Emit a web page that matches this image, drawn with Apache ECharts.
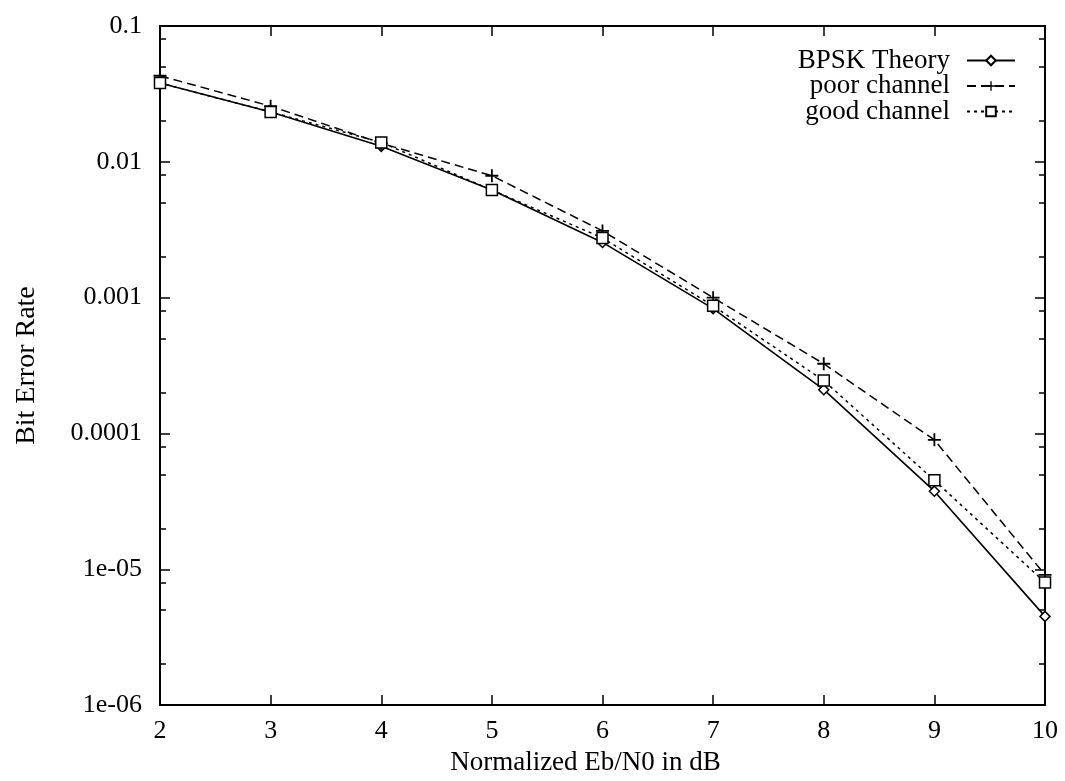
<!DOCTYPE html>
<html>
<head>
<meta charset="utf-8">
<script src="https://cdn.jsdelivr.net/npm/echarts@6/dist/echarts.min.js"></script>
<style>
html,body{margin:0;padding:0;background:#fff;}
#chart{width:1065px;height:781px;}
</style>
</head>
<body>
<div id="chart"></div>
<script>
// ---- data ----
var xValues = [2, 3, 4, 5, 6, 7, 8, 9, 10];
var bpskTheory = [0.038, 0.0233, 0.013, 0.0062, 0.00255, 0.00083, 0.00021, 0.0000376, 0.0000045];
var poorChannel = [0.043, 0.0257, 0.0137, 0.0079, 0.0031, 0.00100, 0.000326, 0.0000897, 0.0000091];
var goodChannel = [0.038, 0.0233, 0.0139, 0.0062, 0.00275, 0.00087, 0.000245, 0.0000452, 0.0000080];
var seriesNames = ['BPSK Theory', 'poor channel', 'good channel'];
var yMajorTicks = [1e-6, 1e-5, 1e-4, 1e-3, 1e-2, 1e-1];
var yTickLabels = ['1e-06', '1e-05', '0.0001', '0.001', '0.01', '0.1'];
var yMinorTicks = [2e-6, 5e-6, 8e-6, 2e-5, 5e-5, 8e-5, 2e-4, 5e-4, 8e-4, 2e-3, 5e-3, 8e-3, 2e-2, 5e-2, 8e-2];
var xTicks = [2, 3, 4, 5, 6, 7, 8, 9, 10];
var xLabel = 'Normalized Eb/N0 in dB';
var yLabel = 'Bit Error Rate';

function pairs(ys) { return xValues.map(function (x, i) { return [x, ys[i]]; }); }

var FONT = 'Liberation Serif';
var lineAx = { show: true, onZero: false, lineStyle: { color: '#000', width: 2 } };

function yAxisDef(pos, ticks, len, withLabel) {
  return {
    type: 'log', logBase: 10, min: 1e-6, max: 0.1, position: pos,
    axisLine: lineAx,
    axisTick: { show: true, inside: true, length: len, customValues: ticks, lineStyle: { color: '#000', width: 1.5 } },
    axisLabel: withLabel ? {
      show: true, customValues: yMajorTicks, color: '#000', fontFamily: FONT, fontSize: 26, margin: 18,
      formatter: function (v) { return yTickLabels[Math.round(Math.log10(v)) + 6]; }
    } : { show: false },
    splitLine: { show: false }, minorTick: { show: false }
  };
}

var chart = echarts.init(document.getElementById('chart'));
chart.setOption({
  backgroundColor: '#fff',
  animation: false,
  grid: { left: 160, right: 20, top: 26, bottom: 68, containLabel: false },
  legend: {
    data: seriesNames, orient: 'vertical', right: 44, top: 42, align: 'right',
    itemWidth: 48, itemHeight: 12, itemGap: -1.5,
    textStyle: { color: '#000', fontFamily: FONT, fontSize: 27, padding: [0, 12, 0, 0] }
  },
  xAxis: [
    {
      type: 'value', min: 2, max: 10, interval: 1, position: 'bottom',
      axisLine: lineAx,
      axisTick: { show: true, inside: true, length: 10, lineStyle: { color: '#000', width: 1.5 } },
      axisLabel: { color: '#000', fontFamily: FONT, fontSize: 26, margin: 13,
        formatter: function (v) { return xTicks.indexOf(v) >= 0 ? String(v) : ''; } },
      splitLine: { show: false },
      name: xLabel, nameLocation: 'middle', nameGap: 27,
      nameTextStyle: { color: '#000', fontFamily: FONT, fontSize: 27, padding: [0, 34, 0, 0] }
    },
    {
      type: 'value', min: 2, max: 10, interval: 1, position: 'top',
      axisLine: lineAx,
      axisTick: { show: true, inside: true, length: 10, lineStyle: { color: '#000', width: 1.5 } },
      axisLabel: { show: false }, splitLine: { show: false }
    }
  ],
  yAxis: [
    Object.assign(yAxisDef('left', yMajorTicks, 10, true), {
      name: yLabel, nameLocation: 'middle', nameGap: 119,
      nameTextStyle: { color: '#000', fontFamily: FONT, fontSize: 28 }
    }),
    yAxisDef('left', yMinorTicks, 6, false),
    yAxisDef('right', yMajorTicks, 10, false),
    yAxisDef('right', yMinorTicks, 6, false)
  ],
  series: [
    {
      name: seriesNames[0], type: 'line', data: pairs(bpskTheory),
      symbol: 'diamond', symbolSize: 10, showAllSymbol: true,
      lineStyle: { color: '#000', width: 1.6, type: 'solid' },
      itemStyle: { color: '#fff', borderColor: '#000', borderWidth: 1.5 }
    },
    {
      name: seriesNames[1], type: 'line', data: pairs(poorChannel),
      symbol: 'path://M4.3,0H5.7V4.3H10V5.7H5.7V10H4.3V5.7H0V4.3H4.3Z', symbolSize: 13, showAllSymbol: true,
      lineStyle: { color: '#000', width: 1.5, type: [9, 5] },
      itemStyle: { color: '#000', borderWidth: 0 }
    },
    {
      name: seriesNames[2], type: 'line', data: pairs(goodChannel),
      symbol: 'rect', symbolSize: 11, showAllSymbol: true,
      lineStyle: { color: '#000', width: 1.5, type: [3, 4] },
      itemStyle: { color: '#fff', borderColor: '#000', borderWidth: 1.5 }
    }
  ]
});
</script>
</body>
</html>
